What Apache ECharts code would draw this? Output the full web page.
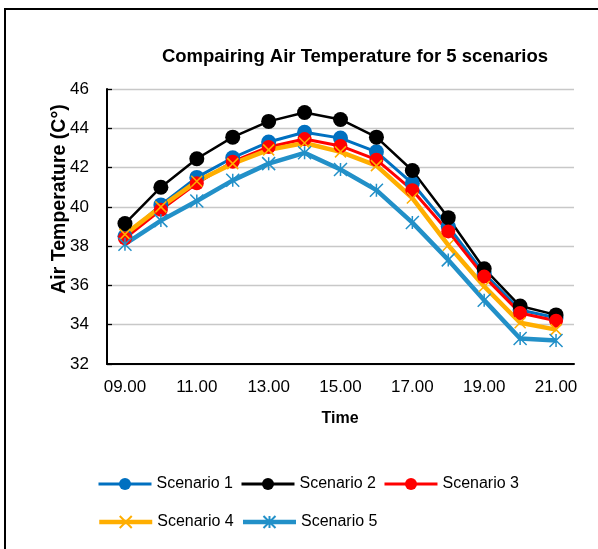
<!DOCTYPE html>
<html>
<head>
<meta charset="utf-8">
<script src="https://cdn.jsdelivr.net/npm/echarts@6/dist/echarts.min.js"></script>
<style>
html,body{margin:0;padding:0;background:#fff;}
#chart{width:598px;height:549px;}
</style>
</head>
<body>
<div id="chart"></div>
<script>
var categories = ['09.00','10.00','11.00','12.00','13.00','14.00','15.00','16.00','17.00','18.00','19.00','20.00','21.00'];
var scenario1 = [38.5, 40.1, 41.5, 42.5, 43.3, 43.8, 43.5, 42.8, 41.2, 39.0, 36.6, 34.75, 34.35];
var scenario2 = [39.15, 41.0, 42.45, 43.55, 44.35, 44.8, 44.45, 43.55, 41.85, 39.45, 36.85, 34.95, 34.5];
var scenario3 = [38.4, 39.85, 41.2, 42.3, 43.05, 43.45, 43.1, 42.4, 40.85, 38.75, 36.45, 34.6, 34.2];
var scenario4 = [38.6, 40.0, 41.3, 42.2, 42.9, 43.25, 42.8, 42.1, 40.45, 38.05, 35.95, 34.1, 33.75];
var scenario5 = [38.1, 39.3, 40.3, 41.35, 42.2, 42.75, 41.9, 40.85, 39.2, 37.3, 35.25, 33.3, 33.2];
var seriesNames = ['Scenario 1','Scenario 2','Scenario 3','Scenario 4','Scenario 5'];
var yTicks = {min: 32, max: 46, interval: 2};

var FONT = '"Liberation Sans", Arial, sans-serif';
var chart = echarts.init(document.getElementById('chart'), null, {renderer: 'canvas'});

function mk(name, data, color, lineWidth, symbol, size, borderWidth) {
  return {
    name: name, type: 'line', data: data, smooth: false,
    symbol: symbol, symbolSize: size,
    lineStyle: {color: color, width: lineWidth},
    itemStyle: {color: color, borderColor: color, borderWidth: borderWidth},
    emphasis: {disabled: true},
    animation: false
  };
}

var option = {
  animation: false,
  backgroundColor: '#ffffff',
  textStyle: {fontFamily: FONT},
  title: {
    text: 'Compairing Air Temperature for 5 scenarios',
    left: 355, top: 47, textAlign: 'center', padding: 0,
    textStyle: {fontFamily: FONT, fontSize: 18.5, fontWeight: 'bold', color: '#000'}
  },
  grid: {left: 107, right: 24, top: 89, bottom: 185, containLabel: false},
  legend: [
    {data: seriesNames.slice(0,3), left: 97, top: 476, padding: 0, itemWidth: 53, itemHeight: 15, itemGap: 7,
     lineStyle: {width: 3},
     textStyle: {fontFamily: FONT, fontSize: 16, color: '#000'}},
    {data: seriesNames.slice(3), left: 97, top: 514, padding: 0, itemWidth: 53, itemHeight: 15, itemGap: 7,
     lineStyle: {width: 4.5},
     textStyle: {fontFamily: FONT, fontSize: 16, color: '#000'}}
  ],
  xAxis: {
    type: 'category', data: categories, boundaryGap: true,
    axisLine: {lineStyle: {color: '#000', width: 2}},
    axisTick: {inside: true, length: 5, interval: 0, lineStyle: {color: '#000', width: 1.3}},
    axisLabel: {interval: 1, margin: 15, fontSize: 17, color: '#000', fontFamily: FONT},
    splitLine: {show: false}
  },
  yAxis: {
    type: 'value', min: yTicks.min, max: yTicks.max, interval: yTicks.interval,
    axisLine: {show: true, lineStyle: {color: '#000', width: 2}},
    axisTick: {show: true, inside: true, length: 5, lineStyle: {color: '#000', width: 1.3}},
    axisLabel: {margin: 18, fontSize: 17, color: '#000', fontFamily: FONT},
    splitLine: {lineStyle: {color: '#C8C8C8', width: 1.3}}
  },
  graphic: [
    {type: 'rect', shape: {x: 5, y: 9, width: 800, height: 800}, style: {fill: 'none', stroke: '#000', lineWidth: 2}, silent: true},
    {type: 'text', x: 60, y: 199, rotation: Math.PI / 2,
     style: {text: 'Air Temperature (C°)', font: 'bold 19.5px ' + FONT, fill: '#000', textAlign: 'center', textVerticalAlign: 'middle'}},
    {type: 'text', x: 340, y: 419,
     style: {text: 'Time', font: 'bold 16px ' + FONT, fill: '#000', textAlign: 'center', textVerticalAlign: 'middle'}}
  ],
  series: [
    mk(seriesNames[0], scenario1, '#0070C0', 3, 'circle', 15, 0),
    mk(seriesNames[1], scenario2, '#000000', 2.5, 'circle', 15, 0),
    mk(seriesNames[2], scenario3, '#FF0000', 3, 'circle', 14, 0),
    mk(seriesNames[3], scenario4, '#FFAE00', 4.5, 'path://M0,0L10,10M10,0L0,10', 11, 1.5),
    mk(seriesNames[4], scenario5, '#2290C8', 4.5, 'path://M5,0L5,10M0,0L10,10M10,0L0,10', 13, 1.5)
  ]
};
chart.setOption(option);
</script>
</body>
</html>
